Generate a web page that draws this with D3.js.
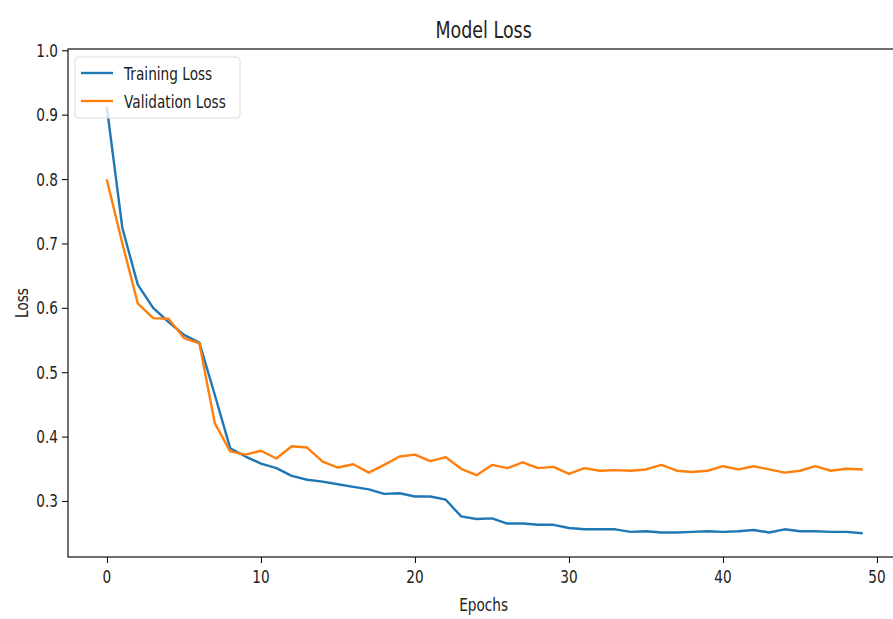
<!DOCTYPE html>
<html>
<head>
<meta charset="utf-8">
<script src="https://cdn.jsdelivr.net/npm/d3@7/dist/d3.min.js"></script>
<style>
  html, body { margin: 0; padding: 0; background: #fff; }
  svg { display: block; }
  text { font-family: "DejaVu Sans", sans-serif; fill: #222; }
</style>
</head>
<body>
<svg id="chart" width="893" height="619"></svg>
<script>
const epochs = d3.range(0, 50);
const trainingLoss = [0.910, 0.724, 0.636, 0.600, 0.578, 0.558, 0.546, 0.465, 0.382, 0.369,
  0.358, 0.351, 0.339, 0.333, 0.330, 0.326, 0.322, 0.318, 0.311, 0.312,
  0.307, 0.307, 0.302, 0.276, 0.272, 0.273, 0.265, 0.265, 0.263, 0.263,
  0.258, 0.256, 0.256, 0.256, 0.252, 0.253, 0.251, 0.251, 0.252, 0.253,
  0.252, 0.253, 0.255, 0.251, 0.256, 0.253, 0.253, 0.252, 0.252, 0.250];
const validationLoss = [0.798, 0.700, 0.607, 0.584, 0.583, 0.553, 0.545, 0.421, 0.377, 0.372,
  0.378, 0.366, 0.385, 0.383, 0.361, 0.352, 0.357, 0.344, 0.356, 0.369,
  0.372, 0.362, 0.368, 0.350, 0.340, 0.356, 0.351, 0.360, 0.351, 0.353,
  0.342, 0.351, 0.347, 0.348, 0.347, 0.349, 0.356, 0.347, 0.345, 0.347,
  0.354, 0.349, 0.354, 0.349, 0.344, 0.347, 0.354, 0.347, 0.350, 0.349];
const xTicks = [0, 10, 20, 30, 40, 50];
const yTicks = [0.3, 0.4, 0.5, 0.6, 0.7, 0.8, 0.9, 1.0];
const seriesNames = ["Training Loss", "Validation Loss"];
const seriesColors = ["#1f77b4", "#ff7f0e"];
const titleText = "Model Loss";
const xLabel = "Epochs";
const yLabel = "Loss";

const SX = 0.76; // horizontal squeeze of the text in the reference
const svg = d3.select("#chart");
const mLeft = 68, mRight = 899.3, mTop = 49, mBottom = 557;

const x = d3.scaleLinear().domain([-2.53, 51.45]).range([mLeft, mRight]);
const y = d3.scaleLinear().domain([0.213, 1.002]).range([mBottom, mTop]);

function sText(g, tx, ty, str, size, anchor, rot) {
  return g.append("text")
    .attr("transform", `translate(${tx},${ty})${rot ? " rotate(" + rot + ")" : ""} scale(${SX},1)`)
    .attr("text-anchor", anchor)
    .style("font-size", size + "px")
    .text(str);
}

// lines
const series = [trainingLoss, validationLoss];
const line = d3.line().x((d, i) => x(epochs[i])).y(d => y(d));
const plot = svg.append("g");
series.forEach((s, k) => {
  plot.append("path").datum(s)
    .attr("d", line)
    .attr("fill", "none")
    .attr("stroke", seriesColors[k])
    .attr("stroke-width", 2.4)
    .attr("stroke-linejoin", "round")
    .attr("stroke-linecap", "square");
});

// spines
svg.append("rect").attr("x", mLeft).attr("y", mTop)
  .attr("width", mRight - mLeft).attr("height", mBottom - mTop)
  .attr("fill", "none").attr("stroke", "#111").attr("stroke-width", 1.2);

// x axis
const xAxis = svg.append("g").attr("transform", `translate(0,${mBottom})`)
  .call(d3.axisBottom(x).tickValues(xTicks).tickSize(6).tickPadding(4).tickFormat(d3.format("d")));
xAxis.select(".domain").remove();
xAxis.selectAll(".tick line").attr("stroke", "#111").attr("stroke-width", 1.1);
xAxis.selectAll(".tick text").remove();
xTicks.forEach(t => sText(xAxis, x(t), 26, String(t), 18, "middle"));

// y axis
const yAxis = svg.append("g").attr("transform", `translate(${mLeft},0)`)
  .call(d3.axisLeft(y).tickValues(yTicks).tickSize(6).tickFormat(d3.format(".1f")));
yAxis.select(".domain").remove();
yAxis.selectAll(".tick line").attr("stroke", "#111").attr("stroke-width", 1.1);
yAxis.selectAll(".tick text").remove();
yTicks.forEach(t => sText(yAxis, -10, y(t) + 6.5, d3.format(".1f")(t), 18, "end"));

// title and labels
sText(svg, (mLeft + mRight) / 2, 38, titleText, 23, "middle");
sText(svg, (mLeft + mRight) / 2, 611, xLabel, 18, "middle");
sText(svg, 28, (mTop + mBottom) / 2, yLabel, 18, "middle", -90);

// legend
const lg = svg.append("g");
lg.append("rect").attr("x", 75).attr("y", 57).attr("width", 165).attr("height", 61)
  .attr("rx", 3).attr("fill", "#fff").attr("fill-opacity", 0.8)
  .attr("stroke", "#ddd").attr("stroke-width", 1);
seriesNames.forEach((name, k) => {
  const ly = 73 + k * 28;
  lg.append("line").attr("x1", 81).attr("x2", 113).attr("y1", ly).attr("y2", ly)
    .attr("stroke", seriesColors[k]).attr("stroke-width", 2.4);
  sText(lg, 124, ly + 7, name, 18, "start");
});
</script>
</body>
</html>
